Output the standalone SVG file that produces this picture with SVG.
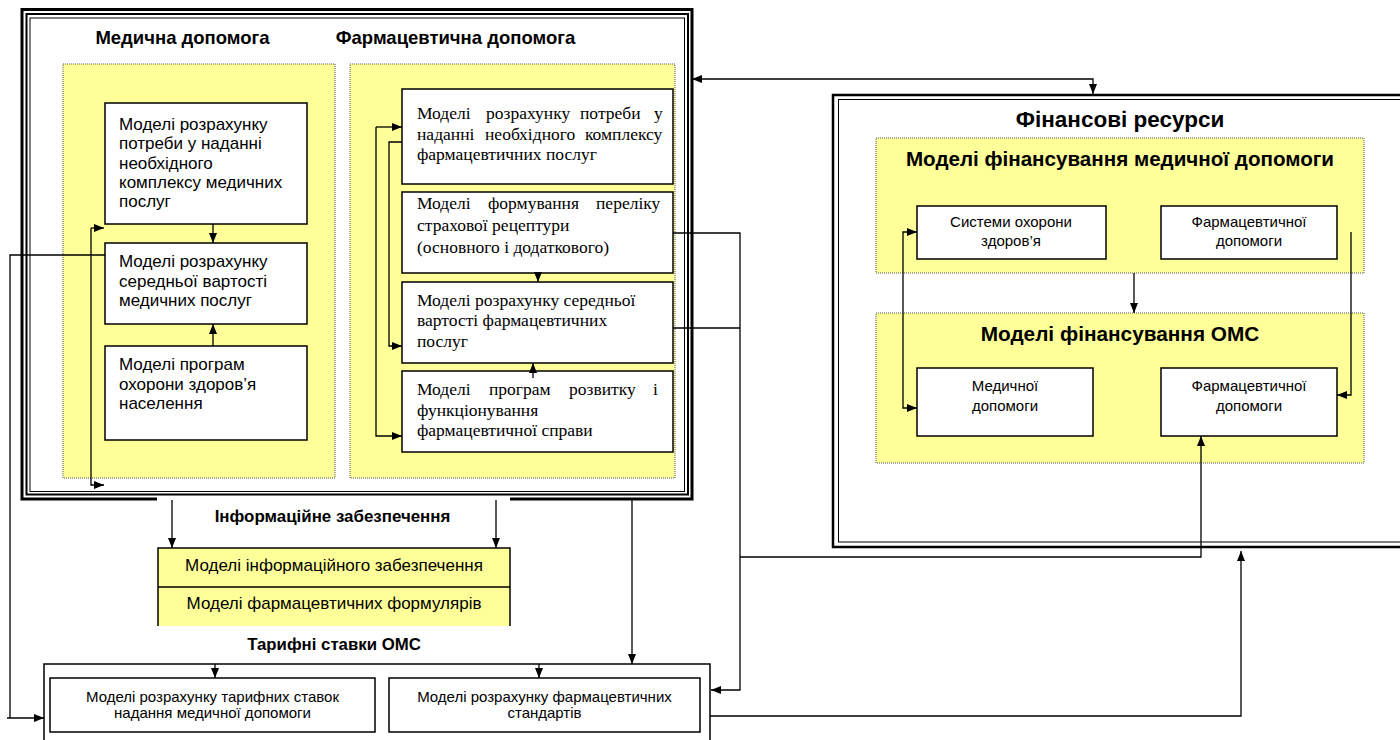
<svg xmlns="http://www.w3.org/2000/svg" width="1400" height="740" viewBox="0 0 1400 740">
<defs>
<marker id="ah" viewBox="0 0 10 8" refX="10" refY="4" markerWidth="10" markerHeight="8" markerUnits="userSpaceOnUse" orient="auto-start-reverse">
<path d="M0,0 L10,4 L0,8 Z" fill="#000"/>
</marker>
<style>
.bg{fill:#fff}
.frame{fill:none;stroke:#000}
.panel{fill:#ffff99;stroke:#555;stroke-width:1;stroke-dasharray:1,1}
.box{fill:#fff;stroke:#000;stroke-width:1.5}
.ln{fill:none;stroke:#000;stroke-width:1.3}
.arr{fill:none;stroke:#000;stroke-width:1.3;marker-end:url(#ah)}
.arr2{fill:none;stroke:#000;stroke-width:1.3;marker-start:url(#ah);marker-end:url(#ah)}
.t{font-family:"Liberation Sans",Arial,sans-serif;font-size:17px;fill:#000}
.ts{font-family:"Liberation Sans",Arial,sans-serif;font-size:15px;fill:#000;text-anchor:middle}
.ti{font-family:"Liberation Sans",Arial,sans-serif;font-size:17px;fill:#000;text-anchor:middle}
.tr{font-family:"Liberation Serif","Times New Roman",serif;font-size:17.5px;fill:#000}
.h{font-family:"Liberation Sans",Arial,sans-serif;font-weight:bold;fill:#000;text-anchor:middle}
</style>
</defs>
<rect class="bg" x="0" y="0" width="1400" height="740"/>

<g id="main-frame">
<rect x="22" y="9.5" width="670" height="489.5" fill="#fff" stroke="none"/>
<path class="frame" stroke-width="3" d="M157,499 H22 V9.5 H692 V499 H510"/>
<rect class="frame" stroke-width="2" x="26.5" y="14" width="661.5" height="480.5"/>
<rect class="frame" stroke-width="1" x="30" y="18" width="654.5" height="473.5"/>
<text class="h" x="182.5" y="44" font-size="18.5">Медична допомога</text>
<text class="h" x="455.5" y="44" font-size="18.5">Фармацевтична допомога</text>
</g>

<g id="med-panel">
<rect class="panel" x="63" y="64" width="272" height="414"/>
</g>
<g id="med-need">
<rect class="box" x="105" y="103" width="202" height="121"/>
<text class="t" x="119" y="130">Моделі розрахунку</text>
<text class="t" x="119" y="149">потреби у наданні</text>
<text class="t" x="119" y="168.5">необхідного</text>
<text class="t" x="119" y="187.5">комплексу медичних</text>
<text class="t" x="119" y="206.5">послуг</text>
</g>
<g id="med-cost">
<rect class="box" x="105" y="243" width="202" height="81"/>
<text class="t" x="119" y="267">Моделі розрахунку</text>
<text class="t" x="119" y="286.5">середньої вартості</text>
<text class="t" x="119" y="306">медичних послуг</text>
</g>
<g id="med-prog">
<rect class="box" x="105" y="346" width="202" height="94"/>
<text class="t" x="119" y="370">Моделі програм</text>
<text class="t" x="119" y="389.5">охорони здоров’я</text>
<text class="t" x="119" y="409">населення</text>
</g>

<g id="ph-panel">
<rect class="panel" x="350" y="64" width="325" height="414"/>
</g>
<g id="ph-need">
<rect class="box" x="402" y="89" width="271" height="95"/>
<text class="tr" y="119"><tspan x="417">Моделі</tspan><tspan x="486">розрахунку</tspan><tspan x="580">потреби</tspan><tspan x="654">у</tspan></text>
<text class="tr" y="139.5"><tspan x="417">наданні</tspan><tspan x="485">необхідного</tspan><tspan x="585">комплексу</tspan></text>
<text class="tr" x="417" y="160">фармацевтичних послуг</text>
</g>
<g id="ph-list">
<rect class="box" x="402" y="192" width="271" height="81"/>
<text class="tr" y="209"><tspan x="417">Моделі</tspan><tspan x="488">формування</tspan><tspan x="596">переліку</tspan></text>
<text class="tr" x="417" y="231">страхової рецептури</text>
<text class="tr" x="417" y="253">(основного і додаткового)</text>
</g>
<g id="ph-cost">
<rect class="box" x="402" y="282" width="271" height="81"/>
<text class="tr" x="417" y="305.5">Моделі розрахунку середньої</text>
<text class="tr" x="417" y="326">вартості фармацевтичних</text>
<text class="tr" x="417" y="346.5">послуг</text>
</g>
<g id="ph-prog">
<rect class="box" x="402" y="371" width="271" height="81"/>
<text class="tr" y="395"><tspan x="417">Моделі</tspan><tspan x="489">програм</tspan><tspan x="569">розвитку</tspan><tspan x="653">і</tspan></text>
<text class="tr" x="417" y="415.5">функціонування</text>
<text class="tr" x="417" y="436">фармацевтичної справи</text>
</g>

<g id="info">
<text class="h" x="332.5" y="522" font-size="16.9">Інформаційне забезпечення</text>
<rect x="158" y="548" width="352" height="78" fill="#ffff99"/>
<path class="frame" stroke-width="1.5" d="M158,626 V548 H510 V626 M158,587 H510"/>
<text class="ti" x="334" y="571">Моделі інформаційного забезпечення</text>
<text class="ti" x="334" y="609">Моделі фармацевтичних формулярів</text>
</g>

<g id="tariff">
<text class="h" x="334" y="650" font-size="16.8">Тарифні ставки ОМС</text>
<path class="frame" stroke-width="1.5" d="M44,745 V664 H710 V745"/>
</g>
<g id="tariff-med">
<rect class="box" x="50" y="678" width="325" height="54"/>
<text class="ts" x="212.5" y="702">Моделі розрахунку тарифних ставок</text>
<text class="ts" x="212.5" y="718">надання медичної допомоги</text>
</g>
<g id="tariff-ph">
<rect class="box" x="389" y="678" width="311" height="54"/>
<text class="ts" x="544.5" y="702">Моделі розрахунку фармацевтичних</text>
<text class="ts" x="544.5" y="718">стандартів</text>
</g>

<g id="fin-frame">
<rect x="833" y="95" width="580" height="452" fill="#fff" stroke="#000" stroke-width="2.5"/>
<rect class="frame" stroke-width="1" x="838.5" y="99.5" width="570" height="442.5"/>
<text class="h" x="1120" y="127" font-size="22.5">Фінансові ресурси</text>
</g>
<g id="fin-med-panel">
<rect class="panel" x="876" y="138" width="488" height="135"/>
<text class="h" x="1120" y="166" font-size="20.6">Моделі фінансування медичної допомоги</text>
</g>
<g id="fin-health">
<rect class="box" x="917" y="206" width="189" height="53"/>
<text class="ts" x="1011" y="227">Системи охорони</text>
<text class="ts" x="1011" y="246">здоров’я</text>
</g>
<g id="fin-pharm">
<rect class="box" x="1161" y="206" width="176" height="53"/>
<text class="ts" x="1249" y="227">Фармацевтичної</text>
<text class="ts" x="1249" y="246">допомоги</text>
</g>
<g id="fin-oms-panel">
<rect class="panel" x="876" y="313" width="488" height="150"/>
<text class="h" x="1120" y="341" font-size="20.8">Моделі фінансування ОМС</text>
</g>
<g id="oms-med">
<rect class="box" x="917" y="368" width="176" height="68"/>
<text class="ts" x="1005" y="391">Медичної</text>
<text class="ts" x="1005" y="411">допомоги</text>
</g>
<g id="oms-pharm">
<rect class="box" x="1161" y="368" width="176" height="68"/>
<text class="ts" x="1249" y="391">Фармацевтичної</text>
<text class="ts" x="1249" y="411">допомоги</text>
</g>

<g id="connectors">
<path class="arr" d="M213,224 V243"/>
<path class="arr" d="M213,346 V324"/>
<path class="arr" d="M91,228 H104"/>
<path class="arr" d="M91,228 V485 H104"/>
<path class="ln" d="M105,255 H10 V718"/>
<path class="arr" d="M7,718 H44"/>
<path class="arr" d="M376,127 H402"/>
<path class="arr" d="M376,127 V436 H402"/>
<path class="arr" d="M402,142 H389 V346 H402"/>
<path class="arr" d="M538,273 V282"/>
<path class="arr" d="M533,378 V363"/>
<path class="arr" d="M673,233 H740 V690 H711"/>
<path class="ln" d="M673,328 H740"/>
<path class="arr" d="M740,557 H1201 V436"/>
<path class="arr" d="M632,499 V664"/>
<path class="arr" d="M172,500 V548"/>
<path class="arr" d="M496,500 V548"/>
<path class="arr" d="M215,664 V678"/>
<path class="arr" d="M539,664 V678"/>
<path class="arr" d="M710,716 H1241 V551"/>
<path class="arr2" d="M692,79 H1093 V94"/>
<path class="arr2" d="M917,232 H903 V408 H917"/>
<path class="arr" d="M1134,273 V313"/>
<path class="arr" d="M1351,232 V395 H1337"/>
</g>
</svg>
